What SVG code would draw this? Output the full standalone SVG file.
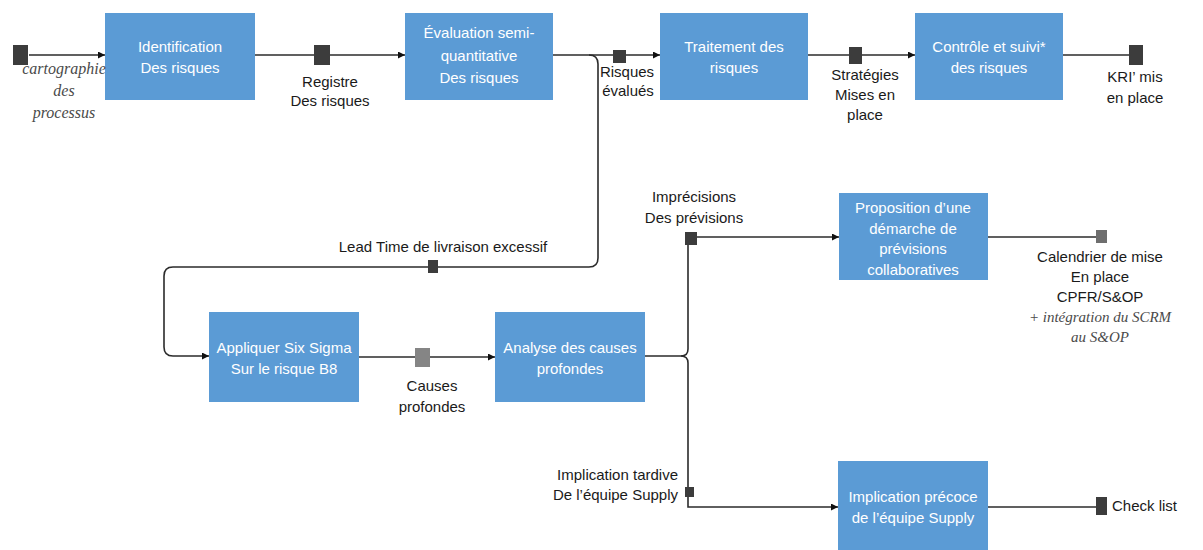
<svg xmlns="http://www.w3.org/2000/svg" width="1203" height="550" viewBox="0 0 1203 550">
  <style>
    .box { fill: #5b9bd5; }
    .bt { font-family: "Liberation Sans", Arial, sans-serif; font-size: 15px; fill: #ffffff; text-anchor: middle; }
    .lb { font-family: "Liberation Sans", Arial, sans-serif; font-size: 15px; fill: #1a1a1a; text-anchor: middle; }
    .hw { font-family: "Liberation Serif", serif; font-style: italic; font-size: 16px; fill: #4a4a4a; text-anchor: middle; }
    .ln { fill: none; stroke: #2b2b2b; stroke-width: 1.6; }
    .sq { fill: #3c3c3c; }
  </style>
  <defs>
    <marker id="arrow" viewBox="0 0 10 10" refX="10" refY="5" markerWidth="7" markerHeight="7" markerUnits="userSpaceOnUse" orient="auto">
      <path d="M0,0 L10,5 L0,10 z" fill="#111"/>
    </marker>
  </defs>
  <rect width="1203" height="550" fill="#ffffff"/>

  <!-- connectors -->
  <g id="connectors">
    <path class="ln" d="M29,55 L105,55" marker-end="url(#arrow)"/>
    <path class="ln" d="M255,55 L405,55" marker-end="url(#arrow)"/>
    <path class="ln" d="M553,55 L660,55" marker-end="url(#arrow)"/>
    <path class="ln" d="M589,55 Q598,55 598,64 L598,258 Q598,267 589,267 L173,267 Q164,267 164,276 L164,347 Q164,356 173,356 L209,356" marker-end="url(#arrow)"/>
    <path class="ln" d="M808,55 L915,55" marker-end="url(#arrow)"/>
    <path class="ln" d="M1063,55 L1130,55"/>
    <path class="ln" d="M359,357 L495,357" marker-end="url(#arrow)"/>
    <path class="ln" d="M645,356 L681,356 Q688,356 688,349 L688,238"/>
    <path class="ln" d="M681,356 Q688,356 688,363 L688,507 L838,507" marker-end="url(#arrow)"/>
    <path class="ln" d="M690,237 L839,237" marker-end="url(#arrow)"/>
    <path class="ln" d="M988,237 L1098,237"/>
    <path class="ln" d="M988,507 L1098,507"/>

    <!-- data squares -->
    <rect class="sq" x="13" y="45" width="15" height="20"/>
    <rect class="sq" x="314" y="45" width="16" height="20"/>
    <rect class="sq" x="613" y="50" width="13" height="13" fill="#454552"/>
    <rect class="sq" x="849" y="47" width="13" height="17"/>
    <rect class="sq" x="1129" y="45" width="14" height="20"/>
    <rect class="sq" x="428" y="260" width="10" height="13"/>
    <rect x="415" y="348" width="15" height="19" fill="#858585"/>
    <rect class="sq" x="685" y="232" width="12" height="13" fill="#222"/>
    <rect x="1096" y="230" width="11" height="13" fill="#6e6e6e"/>
    <rect class="sq" x="685" y="487" width="9" height="10" fill="#222"/>
    <rect class="sq" x="1096" y="497" width="11" height="18"/>
  </g>

  <!-- process boxes -->
  <g id="identification">
    <rect class="box" x="105" y="13" width="150" height="87"/>
    <text class="bt" x="180" y="52">Identification</text>
    <text class="bt" x="180" y="73">Des risques</text>
  </g>
  <g id="evaluation">
    <rect class="box" x="405" y="13" width="148" height="87"/>
    <text class="bt" x="479" y="38">Évaluation semi-</text>
    <text class="bt" x="479" y="61">quantitative</text>
    <text class="bt" x="479" y="83">Des risques</text>
  </g>
  <g id="traitement">
    <rect class="box" x="660" y="13" width="148" height="87"/>
    <text class="bt" x="734" y="52">Traitement des</text>
    <text class="bt" x="734" y="73">risques</text>
  </g>
  <g id="controle">
    <rect class="box" x="915" y="13" width="148" height="87"/>
    <text class="bt" x="989" y="52">Contrôle et suivi*</text>
    <text class="bt" x="989" y="73">des risques</text>
  </g>
  <g id="six-sigma">
    <rect class="box" x="209" y="312" width="150" height="90"/>
    <text class="bt" x="284" y="353">Appliquer Six Sigma</text>
    <text class="bt" x="284" y="374">Sur le risque B8</text>
  </g>
  <g id="analyse">
    <rect class="box" x="495" y="312" width="150" height="90"/>
    <text class="bt" x="570" y="353">Analyse des causes</text>
    <text class="bt" x="570" y="374">profondes</text>
  </g>
  <g id="proposition">
    <rect class="box" x="839" y="193" width="149" height="87"/>
    <text class="bt" x="913" y="213">Proposition d’une</text>
    <text class="bt" x="913" y="234">démarche de</text>
    <text class="bt" x="913" y="254">prévisions</text>
    <text class="bt" x="913" y="275">collaboratives</text>
  </g>
  <g id="implication">
    <rect class="box" x="838" y="461" width="150" height="89"/>
    <text class="bt" x="913" y="502">Implication précoce</text>
    <text class="bt" x="913" y="523">de l’équipe Supply</text>
  </g>

  <!-- flow labels -->
  <g id="labels">
    <text class="hw" x="64" y="74">cartographie</text>
    <text class="hw" x="64" y="96">des</text>
    <text class="hw" x="64" y="118">processus</text>
    <text class="lb" x="330" y="87">Registre</text>
    <text class="lb" x="330" y="106">Des risques</text>
    <text class="lb" x="627" y="77">Risques</text>
    <text class="lb" x="628" y="96">évalués</text>
    <text class="lb" x="865" y="80">Stratégies</text>
    <text class="lb" x="865" y="100">Mises en</text>
    <text class="lb" x="865" y="120">place</text>
    <text class="lb" x="1135" y="82">KRI’ mis</text>
    <text class="lb" x="1135" y="103">en place</text>
    <text class="lb" x="443" y="252">Lead Time de livraison excessif</text>
    <text class="lb" x="432" y="391">Causes</text>
    <text class="lb" x="432" y="412">profondes</text>
    <text class="lb" x="694" y="202">Imprécisions</text>
    <text class="lb" x="694" y="223">Des prévisions</text>
    <text class="lb" x="1100" y="262">Calendrier de mise</text>
    <text class="lb" x="1100" y="282">En place</text>
    <text class="lb" x="1100" y="302">CPFR/S&amp;OP</text>
    <text class="hw" x="1100" y="322" style="font-size:15px">+ intégration du SCRM</text>
    <text class="hw" x="1100" y="342" style="font-size:15px">au S&amp;OP</text>
    <text class="lb" x="678" y="480" text-anchor="end" style="text-anchor:end">Implication tardive</text>
    <text class="lb" x="678" y="500" style="text-anchor:end">De l’équipe Supply</text>
    <text class="lb" x="1112" y="511" style="text-anchor:start">Check list</text>
  </g>
</svg>
